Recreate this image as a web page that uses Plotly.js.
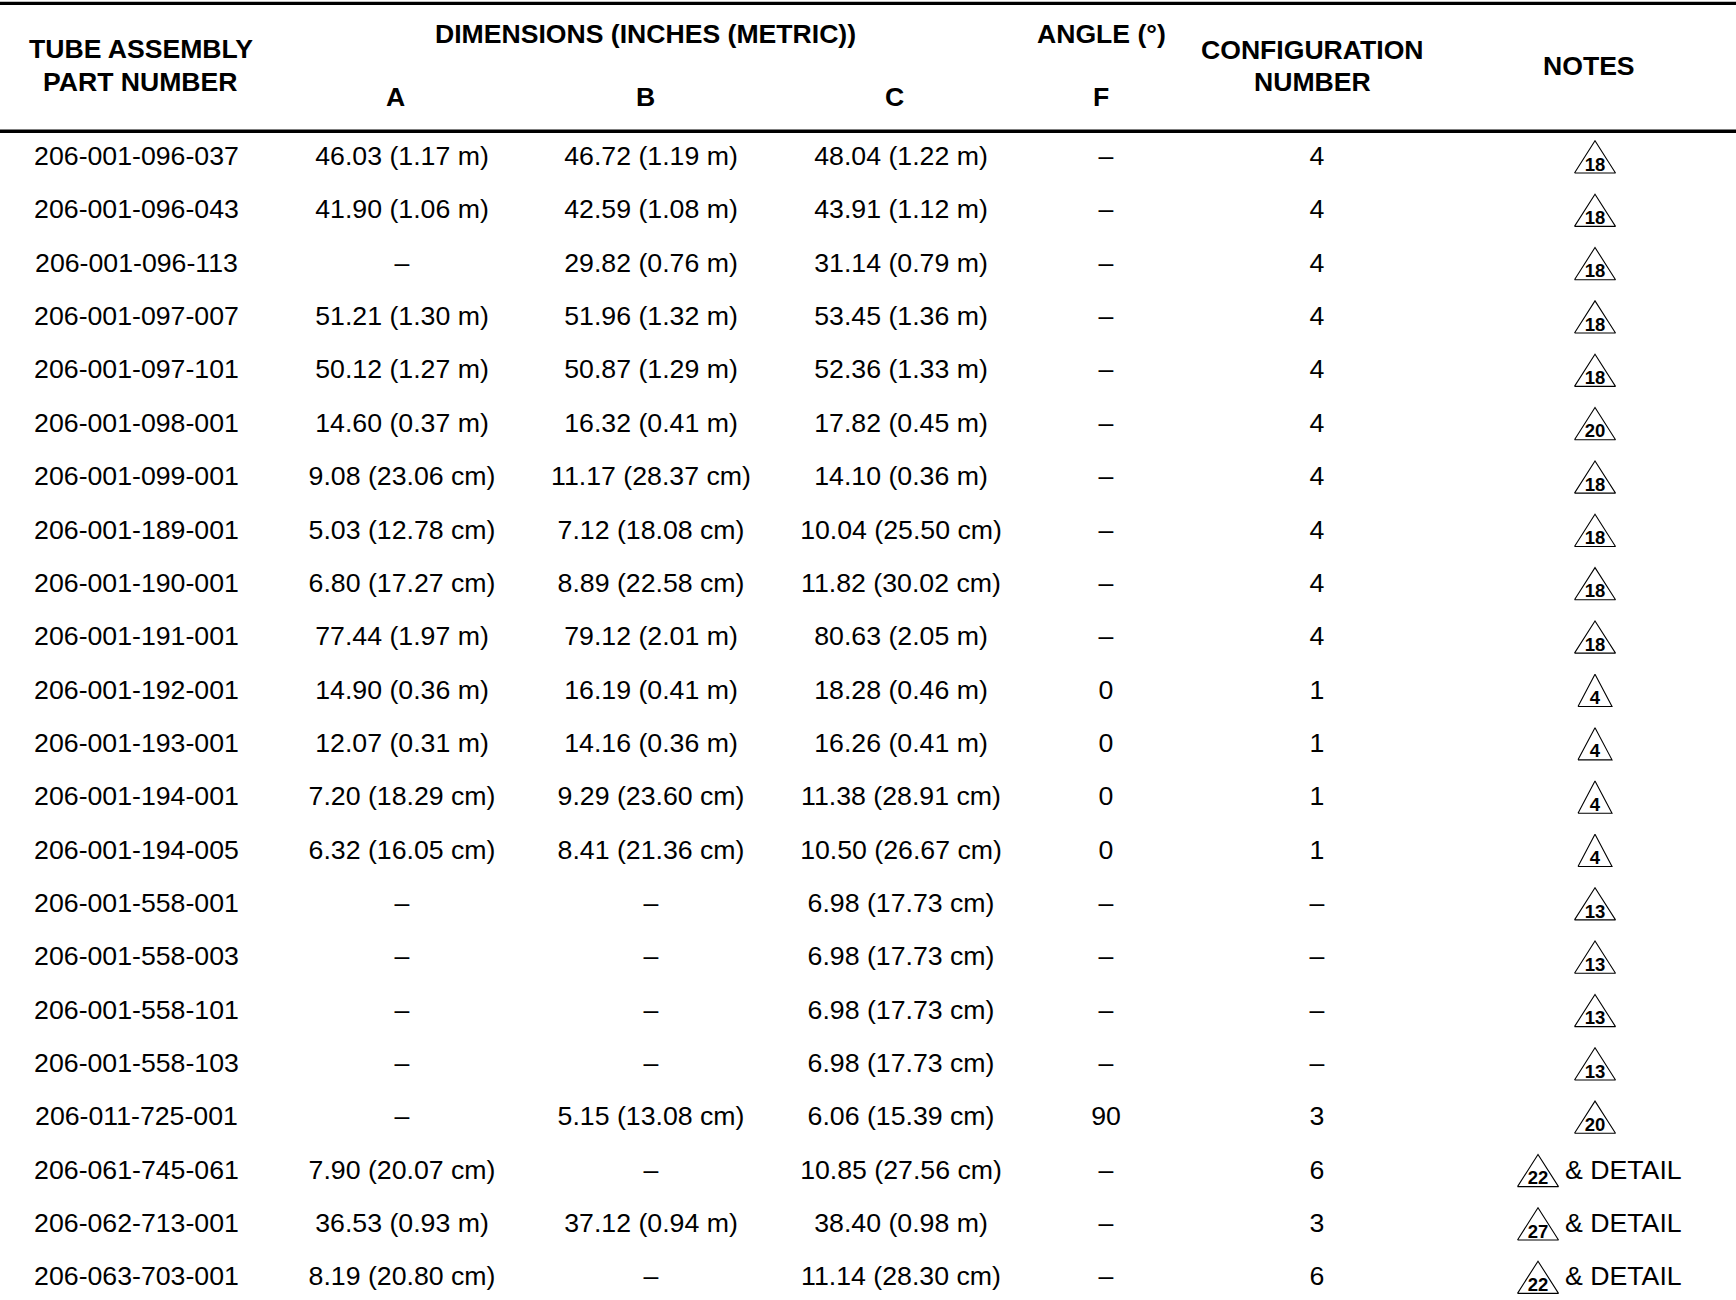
<!DOCTYPE html>
<html>
<head>
<meta charset="utf-8">
<script src="https://cdn.plot.ly/plotly-3.0.1.min.js"></script>
<style>html,body{margin:0;padding:0;background:#fff;}#chart{width:1736px;height:1300px;}</style>
</head>
<body>
<div id="chart"></div>
<script>
// ---- data ----
const partNumbers = ["206-001-096-037","206-001-096-043","206-001-096-113","206-001-097-007","206-001-097-101","206-001-098-001","206-001-099-001","206-001-189-001","206-001-190-001","206-001-191-001","206-001-192-001","206-001-193-001","206-001-194-001","206-001-194-005","206-001-558-001","206-001-558-003","206-001-558-101","206-001-558-103","206-011-725-001","206-061-745-061","206-062-713-001","206-063-703-001"];
const dimA = ["46.03 (1.17 m)","41.90 (1.06 m)","–","51.21 (1.30 m)","50.12 (1.27 m)","14.60 (0.37 m)","9.08 (23.06 cm)","5.03 (12.78 cm)","6.80 (17.27 cm)","77.44 (1.97 m)","14.90 (0.36 m)","12.07 (0.31 m)","7.20 (18.29 cm)","6.32 (16.05 cm)","–","–","–","–","–","7.90 (20.07 cm)","36.53 (0.93 m)","8.19 (20.80 cm)"];
const dimB = ["46.72 (1.19 m)","42.59 (1.08 m)","29.82 (0.76 m)","51.96 (1.32 m)","50.87 (1.29 m)","16.32 (0.41 m)","11.17 (28.37 cm)","7.12 (18.08 cm)","8.89 (22.58 cm)","79.12 (2.01 m)","16.19 (0.41 m)","14.16 (0.36 m)","9.29 (23.60 cm)","8.41 (21.36 cm)","–","–","–","–","5.15 (13.08 cm)","–","37.12 (0.94 m)","–"];
const dimC = ["48.04 (1.22 m)","43.91 (1.12 m)","31.14 (0.79 m)","53.45 (1.36 m)","52.36 (1.33 m)","17.82 (0.45 m)","14.10 (0.36 m)","10.04 (25.50 cm)","11.82 (30.02 cm)","80.63 (2.05 m)","18.28 (0.46 m)","16.26 (0.41 m)","11.38 (28.91 cm)","10.50 (26.67 cm)","6.98 (17.73 cm)","6.98 (17.73 cm)","6.98 (17.73 cm)","6.98 (17.73 cm)","6.06 (15.39 cm)","10.85 (27.56 cm)","38.40 (0.98 m)","11.14 (28.30 cm)"];
const angleF = ["–","–","–","–","–","–","–","–","–","–","0","0","0","0","–","–","–","–","90","–","–","–"];
const configNumber = ["4","4","4","4","4","4","4","4","4","4","1","1","1","1","–","–","–","–","3","6","3","6"];
const noteNumbers = ["18","18","18","18","18","20","18","18","18","18","4","4","4","4","13","13","13","13","20","22","27","22"];
const noteDetail = ["","","","","","","","","","","","","","","","","","","","& DETAIL","& DETAIL","& DETAIL"];
const headerTop = ["TUBE ASSEMBLY","DIMENSIONS (INCHES (METRIC))","ANGLE (°)","CONFIGURATION","NOTES"];
const headerSub = ["PART NUMBER","A","B","C","F","NUMBER"];

// ---- layout constants ----
const W = 1736, H = 1300;
const ROWPX = 53.35;      // pixels per row
const Y0 = 158.4;         // pixel of row 0 text anchor
const PX = 1 / ROWPX;     // one pixel in row units
const colX = {part: 136.5, A: 402, B: 651, C: 901, F: 1106, cfg: 1317, notes: 1595};
const FONT = "Liberation Sans, Arial, sans-serif";
const BODY = 26.7, HEAD = 26.6;
const rows = partNumbers.map((_, i) => i);

function textTrace(xpos, vals, opts) {
  opts = opts || {};
  return {
    type: "scatter", mode: "text",
    x: vals.map(() => xpos), y: rows, text: vals,
    textposition: opts.pos || "middle center",
    textfont: Object.assign({family: FONT, size: BODY, color: "#000"}, opts.font || {}),
    hoverinfo: "skip", showlegend: false, cliponaxis: false
  };
}

const traces = [
  textTrace(colX.part, partNumbers),
  textTrace(colX.A, dimA),
  textTrace(colX.B, dimB),
  textTrace(colX.C, dimC),
  textTrace(colX.F, angleF),
  textTrace(colX.cfg, configNumber)
];

// note triangles (centre depends on whether "& DETAIL" follows)
const triCX = noteDetail.map(d => d ? 1538 : colX.notes);
const triX = [], triY = [];
noteNumbers.forEach((n, i) => {
  const hw = n.length > 1 ? 20.5 : 17;
  const top = i - 17.6 * PX, bot = i + 14.6 * PX;
  triX.push(triCX[i] - hw, triCX[i] + hw, triCX[i], triCX[i] - hw, null);
  triY.push(bot, bot, top, bot, null);
});
traces.push({
  type: "scatter", mode: "lines", x: triX, y: triY,
  line: {color: "#000", width: 1.1}, hoverinfo: "skip", showlegend: false, cliponaxis: false
});
traces.push({
  type: "scatter", mode: "text",
  x: triCX, y: rows.map(r => r + 7.6 * PX), text: noteNumbers,
  textposition: "middle center",
  textfont: {family: FONT, size: 18.5, color: "#000", weight: "bold"},
  hoverinfo: "skip", showlegend: false, cliponaxis: false
});
traces.push({
  type: "scatter", mode: "text",
  x: noteDetail.map(() => 1565), y: rows, text: noteDetail,
  textposition: "middle right",
  textfont: {family: FONT, size: BODY, color: "#000"},
  hoverinfo: "skip", showlegend: false, cliponaxis: false
});

// header annotations (pixel positions)
const hTopPos = [[141, 49], [645, 34.3], [1101, 34.3], [1312, 50], [1589, 66]];
const hSubPos = [[140, 81.5], [395.3, 97.4], [645.5, 97.4], [894.6, 97.4], [1100.5, 97.4], [1312, 81.5]];
const annotations = [];
function addHeader(txt, p) {
  annotations.push({
    text: txt, x: p[0], xref: "x", y: 1 - p[1] / H, yref: "paper",
    xanchor: "center", yanchor: "middle", showarrow: false,
    font: {family: FONT, size: HEAD, color: "#000", weight: "bold"}
  });
}
headerTop.forEach((t, i) => addHeader(t, hTopPos[i]));
headerSub.forEach((t, i) => addHeader(t, hSubPos[i]));

const shapes = [
  {type: "line", xref: "paper", yref: "paper", x0: 0, x1: 1, y0: 1 - 3.3 / H, y1: 1 - 3.3 / H, line: {color: "#000", width: 3.3}},
  {type: "line", xref: "paper", yref: "paper", x0: 0, x1: 1, y0: 1 - 131.3 / H, y1: 1 - 131.3 / H, line: {color: "#000", width: 3.5}}
];

const layout = {
  width: W, height: H,
  margin: {l: 0, r: 0, t: 0, b: 0, pad: 0},
  paper_bgcolor: "#fff", plot_bgcolor: "#fff",
  xaxis: {range: [0, W], visible: false, fixedrange: true},
  yaxis: {range: [(H - Y0) / ROWPX, -Y0 / ROWPX], visible: false, fixedrange: true},
  showlegend: false, hovermode: false,
  annotations: annotations, shapes: shapes
};

Plotly.newPlot("chart", traces, layout, {displayModeBar: false, staticPlot: true});
</script>
</body>
</html>
